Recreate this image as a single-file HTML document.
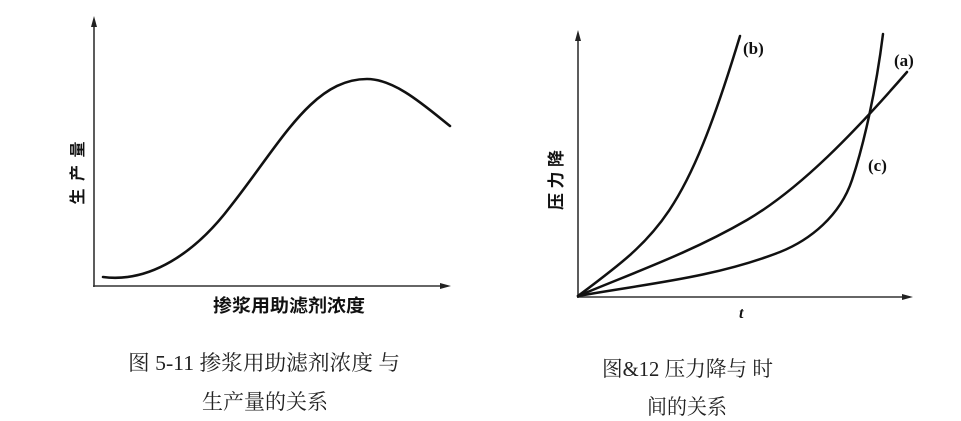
<!DOCTYPE html>
<html><head><meta charset="utf-8"><style>
html,body{margin:0;padding:0;background:#fff;}
svg{display:block;}
</style></head><body>
<svg width="961" height="421" viewBox="0 0 961 421" xmlns="http://www.w3.org/2000/svg">
<rect width="961" height="421" fill="#fff"/>
<g stroke="#333" stroke-width="1.6" fill="none">
<line x1="94" y1="287" x2="94" y2="24"/>
<line x1="93" y1="286" x2="442" y2="286"/>
<line x1="578" y1="298" x2="578" y2="38"/>
<line x1="577" y1="297" x2="904" y2="297"/>
</g>
<g fill="#222">
<polygon points="94,16 91,27 97,27"/>
<polygon points="451,286 440,283 440,289"/>
<polygon points="578,30 575,41 581,41"/>
<polygon points="913,297 902,294 902,300"/>
</g>
<!-- Left curve -->
<path d="M103,277 C150,283 195,253 230,207 C280,144 312,79 367,79 C395,79 425,106 450,126" fill="none" stroke="#111" stroke-width="2.6" stroke-linecap="round"/>
<!-- Right curves -->
<g fill="none" stroke="#111" stroke-width="2.5" stroke-linecap="round">
<path d="M578,296 C658,236 685,217.5 740,36"/>
<path d="M578,296 C634,272.5 691,252.5 747,220 C800,189 854,133 907,72"/>
<path d="M578,296 C645,284 713,278 780,252 C810,240 840,216 852,180 C864,144 876,90 883,34"/>
</g>
<g font-family="Liberation Serif, serif" font-size="17" font-weight="bold" fill="#111">
<text x="743" y="54">(b)</text>
<text x="894" y="66">(a)</text>
<text x="868" y="171">(c)</text>
<text x="739" y="318" font-style="italic" font-size="16">t</text>
</g>
<text x="213" y="312" font-family="Liberation Sans, Noto Sans CJK SC, sans-serif" font-size="18" font-weight="bold" fill="#111" textLength="152" lengthAdjust="spacingAndGlyphs">掺浆用助滤剂浓度</text>
<g transform="translate(77,173) rotate(-90)">
<text x="0" y="6" text-anchor="middle" font-family="Liberation Sans, Noto Sans CJK SC, sans-serif" font-size="16" font-weight="bold" fill="#111" textLength="63">生产量</text>
</g>
<g transform="translate(556,180) rotate(-90)">
<text x="0" y="6" text-anchor="middle" font-family="Liberation Sans, Noto Sans CJK SC, sans-serif" font-size="17" font-weight="bold" fill="#111" textLength="60">压力降</text>
</g>
<g font-family="Liberation Serif, Noto Serif CJK SC, serif" font-size="21" fill="#222">
<text x="128" y="370" textLength="272" lengthAdjust="spacingAndGlyphs">图 5-11 掺浆用助滤剂浓度 与</text>
<text x="202" y="409" textLength="126" lengthAdjust="spacingAndGlyphs">生产量的关系</text>
<text x="602" y="376" textLength="171" lengthAdjust="spacingAndGlyphs">图&amp;12 压力降与 时</text>
<text x="647" y="414" textLength="80" lengthAdjust="spacingAndGlyphs">间的关系</text>
</g>
</svg>
</body></html>
